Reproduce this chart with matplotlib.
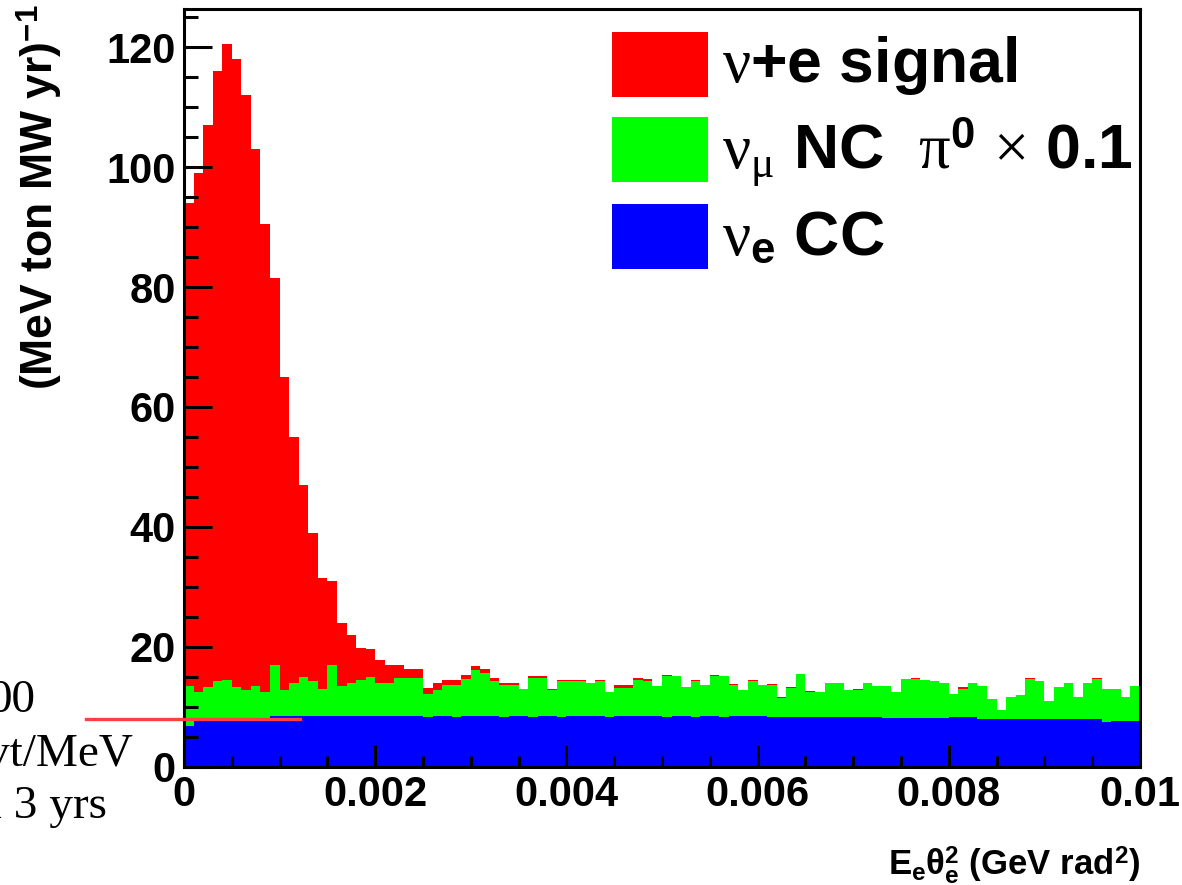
import numpy as np
import matplotlib
matplotlib.use("Agg")
import matplotlib.pyplot as plt
from matplotlib.patches import Rectangle
from matplotlib.lines import Line2D
from matplotlib.ticker import MultipleLocator, FixedLocator, FixedFormatter

plt.rcParams['font.family'] = ['Liberation Sans', 'DejaVu Sans']
plt.rcParams['font.weight'] = 'bold'
plt.rcParams['mathtext.fontset'] = 'custom'
# greek letters in a plain (non-bold) serif, like the Symbol font
plt.rcParams['mathtext.rm'] = 'Liberation Serif:weight=normal'
plt.rcParams['mathtext.it'] = 'Liberation Serif:style=italic:weight=normal'
plt.rcParams['mathtext.bf'] = 'Liberation Sans:weight=bold'
plt.rcParams['mathtext.sf'] = 'Liberation Sans:weight=normal'

# 100 bins in E_e*theta_e^2 from 0 to 0.01 GeV rad^2
x_lo, x_hi, n_bins = 0.0, 0.01, 100

# nu+e elastic signal
signal = [80.5, 86.5, 93.7, 101.7, 106.0, 104.7, 99.2, 89.5, 78.0, 64.5,
          52.2, 41.0, 32.0, 24.7, 18.5, 14.0, 10.5, 8.1, 5.3, 4.6,
          3.8, 3.1, 2.3, 1.4, 1.4, 1.0, 1.1, 0.9, 0.9, 0.7,
          0.6, 0.7, 0.5, 0.3, 0.3, 0.1, 0.3, 0.3, 0.1, 0.2,
          0.1, 0.2, 0.1, 0.1, 0.0, 0.5, 0.5, 0.3, 0.3, 0.1,
          0.1, 0.0, 0.1, 0.1, 0.0, 0.1, 0.0, 0.1, 0.0, 0.1,
          0.0, 0.1, 0.2, 0.1, 0.0, 0.1, 0.0, 0.1, 0.0, 0.0,
          0.1, 0.0, 0.0, 0.1, 0.0, 0.0, 0.1, 0.0, 0.0, 0.1,
          0.0, 0.3, 0.0, 0.0, 0.1, 0.0, 0.0, 0.0, 0.1, 0.0,
          0.0, 0.1, 0.0, 0.0, 0.0, 0.1, 0.0, 0.0, 0.0, 0.0]

# numu NC pi0 background, already scaled by 0.1
numu_nc = [6.7, 4.9, 5.7, 6.7, 6.9, 5.7, 5.2, 5.9, 4.9, 8.5,
           4.3, 5.5, 6.5, 5.8, 4.5, 8.5, 5.0, 5.4, 6.0, 6.5,
           5.4, 5.4, 6.2, 6.3, 6.3, 3.9, 4.3, 5.1, 5.4, 6.1,
           7.6, 7.1, 5.8, 5.4, 5.1, 4.4, 6.6, 6.3, 4.3, 6.1,
           5.8, 5.8, 5.4, 5.8, 4.3, 4.6, 4.6, 6.0, 5.8, 4.9,
           6.9, 6.6, 4.7, 6.1, 5.1, 6.6, 6.9, 5.1, 4.3, 5.8,
           5.1, 5.4, 3.2, 4.9, 7.3, 4.3, 4.3, 5.6, 5.6, 4.5,
           4.5, 5.6, 5.2, 5.3, 4.4, 6.5, 6.5, 6.3, 6.2, 5.8,
           3.8, 4.7, 5.7, 5.4, 3.2, 1.4, 3.6, 3.9, 6.6, 6.2,
           2.9, 5.2, 5.9, 3.6, 5.9, 6.6, 5.5, 5.3, 4.0, 5.8]

# nue CC background
nue_cc = [6.8, 7.6, 7.6, 7.6, 7.6, 7.6, 7.6, 7.6, 7.6, 8.5,
          8.5, 8.5, 8.5, 8.5, 8.5, 8.5, 8.5, 8.5, 8.5, 8.5,
          8.5, 8.5, 8.5, 8.5, 8.5, 8.2, 8.5, 8.5, 8.2, 8.5,
          8.5, 8.5, 8.5, 8.2, 8.5, 8.5, 8.2, 8.5, 8.5, 8.2,
          8.5, 8.5, 8.5, 8.5, 8.2, 8.5, 8.5, 8.5, 8.5, 8.5,
          8.2, 8.5, 8.5, 8.2, 8.5, 8.5, 8.2, 8.5, 8.5, 8.5,
          8.5, 8.2, 8.2, 8.2, 8.2, 8.2, 8.2, 8.3, 8.3, 8.3,
          8.3, 8.3, 8.3, 8.1, 8.1, 8.1, 8.1, 8.1, 8.1, 8.1,
          8.3, 8.3, 8.2, 8.0, 8.0, 8.0, 8.0, 8.0, 8.0, 8.0,
          8.0, 8.0, 8.0, 8.0, 8.0, 8.0, 7.5, 7.6, 7.6, 7.6]

labels = [r"$\mathrm{\nu}$+e signal",
          r"$\mathrm{\nu_{\mu}}$ NC  $\mathrm{\pi}^{\mathbf{0}}$ $\mathrm{\times}$ 0.1",
          r"$\mathrm{\nu}_{\mathbf{e}}$ CC"]
colors = ['#ff0000', '#00ff00', '#0000ff']

W, H = 1182, 885
fig = plt.figure(figsize=(W / 100, H / 100), dpi=100)
ax = fig.add_axes([184 / W, 1 - 766.5 / H, 956 / W, 758 / H])

edges = np.linspace(x_lo, x_hi, n_bins + 1)
blue = np.array(nue_cc)
green = blue + np.array(numu_nc)
total = green + np.array(signal)

# stacked: draw cumulative sums from the top down
for vals, c in zip([total, green, blue], colors):
    ax.stairs(vals, edges, fill=True, color=c, linewidth=0, baseline=0)

ax.set_xlim(x_lo, x_hi)
ax.set_ylim(0, 126.5)

ax.xaxis.set_major_locator(FixedLocator([0, 0.002, 0.004, 0.006, 0.008, 0.01]))
ax.xaxis.set_major_formatter(FixedFormatter(['0', '0.002', '0.004', '0.006', '0.008', '0.01']))
ax.xaxis.set_minor_locator(MultipleLocator(0.0005))
ax.yaxis.set_major_locator(MultipleLocator(20))
ax.yaxis.set_minor_locator(MultipleLocator(5))

ax.tick_params(which='both', direction='in', top=False, right=False, width=2.2, labelsize=30)
ax.tick_params(axis='x', which='major', length=16, pad=6)
ax.tick_params(axis='x', which='minor', length=8)
ax.tick_params(axis='y', which='major', length=20, pad=6)
ax.tick_params(axis='y', which='minor', length=10)
for s in ax.spines.values():
    s.set_linewidth(2.2)
    s.set_zorder(5)

ax.set_ylabel(r"(MeV ton MW yr)$^{\mathbf{-1}}$", fontsize=32, fontweight='bold', loc='top')
ax.yaxis.set_label_coords(-0.125, 1.005)
ax.set_xlabel(r"E$_{\mathbf{e}}$$\mathbf{\theta}_{\mathbf{e}}^{\mathbf{2}}$ (GeV rad$^{\mathbf{2}}$)",
              fontsize=25, fontweight='bold', loc='right')
ax.xaxis.set_label_coords(1.0, -0.103)

# legend drawn as boxes + text, no frame
def to_ax(px, py):
    return (px - 184) / 956, (766.5 - py) / 758

box_tops = [32, 117, 204]
baselines = [82, 168, 255]
for c, lab, top, base in zip(colors, labels, box_tops, baselines):
    x0, y1 = to_ax(612, top)
    _, y0 = to_ax(612, top + 65)
    ax.add_patch(Rectangle((x0, y0), 96 / 956, y1 - y0, transform=ax.transAxes,
                           facecolor=c, edgecolor='none', zorder=6))
    tx, ty = to_ax(722, base)
    ax.text(tx, ty, lab, transform=ax.transAxes, fontsize=45, fontweight='bold',
            ha='left', va='baseline', zorder=6)

# pieces of the slide behind the plot
for s, xr, yb in [("00", 35, 712), ("evt/MeV", 133, 766), ("in 3 yrs", 107, 818)]:
    fig.text(xr / W, 1 - yb / H, s, family='Liberation Serif', fontweight='normal',
             fontsize=34, ha='right', va='baseline')
fig.add_artist(Line2D([86 / W, 300 / W], [1 - 718.5 / H, 1 - 718.5 / H],
                      color='#ff4040', linewidth=2.4, zorder=10))

fig.savefig("out.png", dpi=100)
